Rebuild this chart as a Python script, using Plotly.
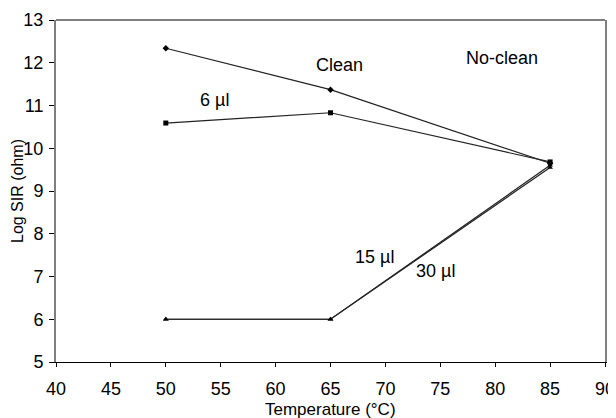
import plotly.graph_objects as go

temperature = [50, 65, 85]
clean = [12.34, 11.37, 9.65]
noclean_6ul = [10.59, 10.83, 9.68]
noclean_15ul = [6.0, 6.0, 9.6]
noclean_30ul = [6.0, 6.0, 9.55]

x_ticks = [40, 45, 50, 55, 60, 65, 70, 75, 80, 85, 90]
y_ticks = [5, 6, 7, 8, 9, 10, 11, 12, 13]

FONT = "Liberation Sans, Arial, sans-serif"
FS = 18

fig = go.Figure()
series = [
    (clean, "diamond", "#222222"),
    (noclean_30ul, "triangle-up", "#222222"),
    (noclean_15ul, "triangle-up", "#222222"),
    (noclean_6ul, "square", "#222222"),
]
for vals, sym, col in series:
    fig.add_trace(go.Scatter(
        x=temperature, y=vals, mode="lines+markers",
        line=dict(color=col, width=1.2),
        marker=dict(symbol=sym, size=5, color="black"),
        showlegend=False, hoverinfo="skip"))

annotations = [
    ("Clean", 65.8, 11.94),
    ("No-clean", 80.6, 12.12),
    ("6 \u00b5l", 54.4, 11.12),
    ("15 \u00b5l", 69.0, 7.45),
    ("30 \u00b5l", 74.6, 7.12),
]
for text, ax, ay in annotations:
    fig.add_annotation(x=ax, y=ay, text=text, showarrow=False,
                       font=dict(family=FONT, size=FS, color="black"))

# axis titles
fig.add_annotation(xref="paper", yref="paper", x=0.5, y=-0.1387, yanchor="middle",
                   text="Temperature (\u00b0C)", showarrow=False,
                   font=dict(family=FONT, size=17, color="black"))
fig.add_annotation(xref="paper", yref="paper", x=-0.071, y=0.5, xanchor="center",
                   textangle=-90, text="Log SIR (ohm)", showarrow=False,
                   font=dict(family=FONT, size=16, color="black"))

fig.add_shape(type="line", xref="paper", yref="paper", x0=0, x1=1, y0=1, y1=1,
              line=dict(color="#7f7f7f", width=2))

# the page body adds an 8px offset, so the figure is sized to fit the window
fig.update_layout(
    width=608, height=410,
    margin=dict(l=48, r=10.5, t=11.5, b=56, autoexpand=False),
    paper_bgcolor="white", plot_bgcolor="white",
    font=dict(family=FONT, size=FS, color="black"),
    xaxis=dict(range=[40, 90], tickvals=x_ticks, ticks="outside", ticklen=4,
               tickcolor="black", showline=True, linecolor="black", linewidth=1.2,
               showgrid=False, zeroline=False, automargin=False,
               ticklabelstandoff=6,
               tickfont=dict(family=FONT, size=FS)),
    xaxis2=dict(range=[40, 90], overlaying="x", anchor="y", side="bottom",
                tickvals=x_ticks, ticks="inside", ticklen=6, tickcolor="black",
                showticklabels=False, showline=False, showgrid=False, zeroline=False),
    yaxis=dict(range=[5, 13], tickvals=y_ticks, ticks="outside", ticklen=5,
               tickcolor="black", showline=True, linecolor="#7f7f7f", linewidth=2,
               mirror=True, showgrid=False, zeroline=False, automargin=False,
               ticklabelstandoff=2,
               tickfont=dict(family=FONT, size=FS)),
    yaxis2=dict(range=[5, 13], overlaying="y", anchor="x", side="left",
                tickvals=y_ticks, ticks="inside", ticklen=3, tickcolor="black",
                showticklabels=False, showline=False, showgrid=False, zeroline=False),
)

fig.write_html("out.html")
